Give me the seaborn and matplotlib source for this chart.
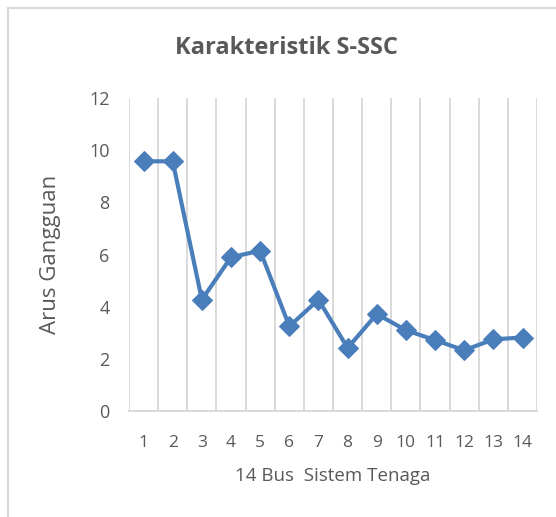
import matplotlib
matplotlib.use("Agg")
import matplotlib.pyplot as plt
from matplotlib.lines import Line2D
import seaborn as sns
import pandas as pd

bus = [str(i) for i in range(1, 15)]
arus = [9.58, 9.58, 4.27, 5.90, 6.15, 3.25, 4.27, 2.42, 3.72, 3.10, 2.72, 2.33, 2.75, 2.82]

sns.set_style("white")
plt.rcParams['font.family'] = ['Open Sans', 'DejaVu Sans']

txt = '#595959'
blue = '#4A7EBB'
grid = '#D9D9D9'

df = pd.DataFrame({'bus': bus, 'arus': arus})

fig = plt.figure(figsize=(5.56, 5.17), dpi=100)
ax = fig.add_axes([0.232, 0.205, 0.734, 0.605])

sns.lineplot(data=df, x='bus', y='arus', ax=ax, sort=False, color=blue,
             linewidth=3.0, marker='D', markersize=10, markeredgecolor=blue)

ax.set_xlim(-0.5, len(bus) - 0.5)
ax.set_ylim(0, 12)
ax.set_yticks(range(0, 13, 2))

# vertical gridlines at category boundaries (Excel style)
for b in range(len(bus) + 1):
    ax.axvline(b - 0.5, color=grid, linewidth=1.4, zorder=0)

for s in ['top', 'right', 'left']:
    ax.spines[s].set_visible(False)
ax.spines['bottom'].set_color(grid)
ax.spines['bottom'].set_linewidth(1.4)

ax.tick_params(axis='both', length=0, colors=txt, labelsize=12.5)
ax.tick_params(axis='y', pad=14, labelsize=13)
ax.tick_params(axis='x', pad=17)

ax.set_xlabel('14 Bus  Sistem Tenaga', color=txt, fontsize=13.5, labelpad=12)
ax.set_ylabel('Arus Gangguan', color=txt, fontsize=16, labelpad=20)

# chart title, centred on the chart area like Excel does
fig.text(286 / 556, 1 - 48 / 517, 'Karakteristik S-SSC', color=txt, fontsize=17,
         fontweight='bold', ha='center', va='center')

# chart area border
fig.add_artist(Line2D([8 / 556, 1], [1 - 8 / 517, 1 - 8 / 517], transform=fig.transFigure,
                      color=grid, linewidth=1.5))
fig.add_artist(Line2D([8 / 556, 8 / 556], [0, 1 - 8 / 517], transform=fig.transFigure,
                      color=grid, linewidth=1.5))

fig.savefig('out.png', dpi=100)
